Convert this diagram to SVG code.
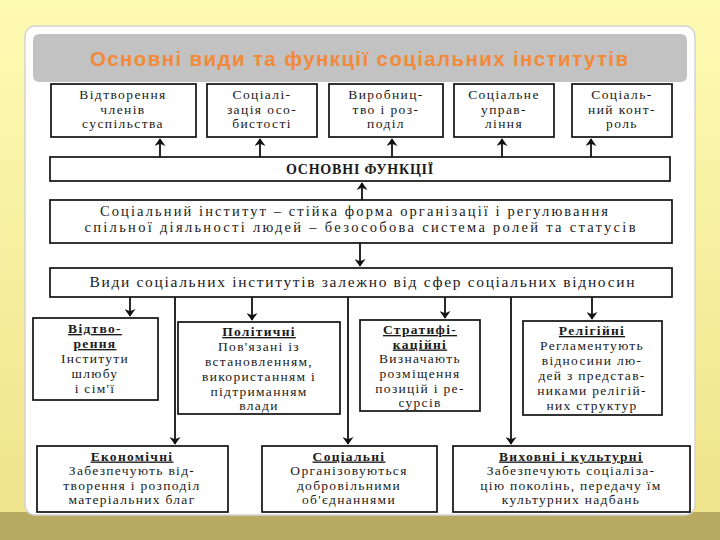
<svg xmlns="http://www.w3.org/2000/svg" width="720" height="540" viewBox="0 0 720 540">
<defs>
<linearGradient id="bg" x1="0" y1="0" x2="0" y2="1">
<stop offset="0" stop-color="#fdfab2"/>
<stop offset="1" stop-color="#eee38a"/>
</linearGradient>
<marker id="ah" viewBox="0 0 10 14" refX="9" refY="7" markerWidth="9" markerHeight="11" markerUnits="userSpaceOnUse" orient="auto">
<path d="M0,0 L10,7 L0,14 L3,7 Z" fill="#111"/>
</marker>
<style>
.box{fill:#fff;stroke:#111;stroke-width:1.7}
.t{font-family:"Liberation Serif","DejaVu Serif",serif;fill:#1a1a1a;text-anchor:middle}
.f14{font-size:13.5px;letter-spacing:1.4px}
.f15{font-size:13.5px;letter-spacing:1.3px}
.h{font-weight:bold;text-decoration:underline}
.c{fill:none;stroke:#111;stroke-width:1.8}
</style>
</defs>
<rect x="0" y="0" width="720" height="540" fill="url(#bg)"/>
<rect x="0" y="512" width="720" height="28" fill="#b8aa62"/>
<rect x="25" y="26" width="670" height="489" rx="10" fill="#fff" stroke="#d4d4d4" stroke-width="1.5"/>
<rect x="33" y="34" width="654" height="48" rx="6" fill="#c2c2c2"/>
<text x="359" y="66" font-family="Liberation Sans, Arial, sans-serif" font-weight="bold" font-size="20.5" fill="#f28a3a" text-anchor="middle" textLength="538" lengthAdjust="spacing">Основні види та функції соціальних інститутів</text>

<g id="connectors">
<line class="c" x1="160" y1="157" x2="160" y2="139" marker-end="url(#ah)"/>
<line class="c" x1="260" y1="157" x2="260" y2="139" marker-end="url(#ah)"/>
<line class="c" x1="392" y1="157" x2="392" y2="139" marker-end="url(#ah)"/>
<line class="c" x1="502" y1="157" x2="502" y2="139" marker-end="url(#ah)"/>
<line class="c" x1="591" y1="157" x2="591" y2="139" marker-end="url(#ah)"/>
<line class="c" x1="362" y1="200" x2="362" y2="183" marker-end="url(#ah)"/>
<line class="c" x1="360" y1="243" x2="360" y2="266" marker-end="url(#ah)"/>
<line class="c" x1="130" y1="297" x2="130" y2="316" marker-end="url(#ah)"/>
<line class="c" x1="175" y1="297" x2="175" y2="444" marker-end="url(#ah)"/>
<line class="c" x1="252" y1="297" x2="252" y2="320" marker-end="url(#ah)"/>
<line class="c" x1="348" y1="297" x2="348" y2="444" marker-end="url(#ah)"/>
<line class="c" x1="445" y1="297" x2="445" y2="318" marker-end="url(#ah)"/>
<line class="c" x1="511" y1="297" x2="511" y2="444" marker-end="url(#ah)"/>
<line class="c" x1="592" y1="297" x2="592" y2="319" marker-end="url(#ah)"/>
</g>

<g id="f1"><rect class="box" x="51" y="84" width="145" height="53"/>
<text class="t f14" x="123" y="99">Відтворення</text><text class="t f14" x="123" y="113.5">членів</text><text class="t f14" x="123" y="128">суспільства</text></g>
<g id="f2"><rect class="box" x="207" y="84" width="110" height="53"/>
<text class="t f14" x="262" y="99">Соціалі-</text><text class="t f14" x="262" y="113.5">зація осо-</text><text class="t f14" x="262" y="128">бистості</text></g>
<g id="f3"><rect class="box" x="329" y="84" width="114" height="53"/>
<text class="t f14" x="386" y="99">Виробниц-</text><text class="t f14" x="386" y="113.5">тво і роз-</text><text class="t f14" x="386" y="128">поділ</text></g>
<g id="f4"><rect class="box" x="454" y="84" width="100" height="53"/>
<text class="t f14" x="504" y="99">Соціальне</text><text class="t f14" x="504" y="113.5">управ-</text><text class="t f14" x="504" y="128">ління</text></g>
<g id="f5"><rect class="box" x="572" y="84" width="100" height="53"/>
<text class="t f14" x="622" y="99">Соціаль-</text><text class="t f14" x="622" y="113.5">ний конт-</text><text class="t f14" x="622" y="128">роль</text></g>

<g id="osnovni"><rect class="box" x="50" y="157" width="620" height="24"/>
<text class="t" x="360" y="174" font-size="14" font-weight="bold" letter-spacing="0.8">ОСНОВНІ ФУНКЦІЇ</text></g>

<g id="definition"><rect class="box" x="50" y="200" width="622" height="43"/>
<text class="t" x="354" y="216" font-size="14.5" textLength="508" lengthAdjust="spacing">Соціальний інститут  –  стійка форма організації і регулювання</text>
<text class="t" x="360" y="232" font-size="14.5" textLength="551" lengthAdjust="spacing">спільної діяльності людей  –  безособова система ролей та статусів</text></g>

<g id="vydy"><rect class="box" x="50" y="268" width="622" height="29"/>
<text class="t" x="362" y="287" font-size="15.5" textLength="545" lengthAdjust="spacing">Види соціальних інститутів залежно від сфер соціальних відносин</text></g>

<g id="vidtvorennia"><rect class="box" x="33" y="318" width="125" height="82"/>
<text class="t f15 h" x="95" y="333">Відтво-</text><text class="t f15 h" x="95" y="348">рення</text>
<text class="t f15" x="95" y="363">Інститути</text><text class="t f15" x="95" y="378">шлюбу</text><text class="t f15" x="95" y="393">і сім'ї</text></g>

<g id="politychni"><rect class="box" x="178" y="322" width="162" height="92"/>
<text class="t f15 h" x="259" y="336">Політичні</text>
<text class="t f15" x="259" y="351">Пов'язані із</text><text class="t f15" x="259" y="366">встановленням,</text>
<text class="t f15" x="259" y="381">використанням і</text><text class="t f15" x="259" y="396">підтриманням</text><text class="t f15" x="259" y="410">влади</text></g>

<g id="stratyfikatsiini"><rect class="box" x="360" y="320" width="120" height="91"/>
<text class="t f15 h" x="420" y="334">Стратифі-</text><text class="t f15 h" x="420" y="348.5">каційні</text>
<text class="t f15" x="420" y="363">Визначають</text><text class="t f15" x="420" y="378">розміщення</text>
<text class="t f15" x="420" y="392.5">позицій і ре-</text><text class="t f15" x="420" y="407">сурсів</text></g>

<g id="religiini"><rect class="box" x="523" y="321" width="139" height="94"/>
<text class="t f15 h" x="592" y="335">Релігійні</text>
<text class="t f15" x="592" y="350">Регламентують</text><text class="t f15" x="592" y="365">відносини лю-</text>
<text class="t f15" x="592" y="380">дей з представ-</text><text class="t f15" x="592" y="395">никами релігій-</text><text class="t f15" x="592" y="410">них структур</text></g>

<g id="ekonomichni"><rect class="box" x="37" y="446" width="191" height="66"/>
<text class="t f15 h" x="132" y="460.5">Економічні</text>
<text class="t f15" x="132" y="475">Забезпечують від-</text><text class="t f15" x="132" y="489.5">творення і розподіл</text><text class="t f15" x="132" y="504">матеріальних благ</text></g>

<g id="sotsialni"><rect class="box" x="262" y="446" width="175" height="66"/>
<text class="t f15 h" x="349" y="460.5">Соціальні</text>
<text class="t f15" x="349" y="475">Організовуються</text><text class="t f15" x="349" y="489.5">добровільними</text><text class="t f15" x="349" y="504">об'єднаннями</text></g>

<g id="vykhovni"><rect class="box" x="453" y="446" width="237" height="66"/>
<text class="t f15 h" x="571" y="460.5">Виховні і культурні</text>
<text class="t f15" x="571" y="475">Забезпечують соціаліза-</text><text class="t f15" x="571" y="489.5">цію поколінь, передачу їм</text><text class="t f15" x="571" y="504">культурних надбань</text></g>
</svg>
